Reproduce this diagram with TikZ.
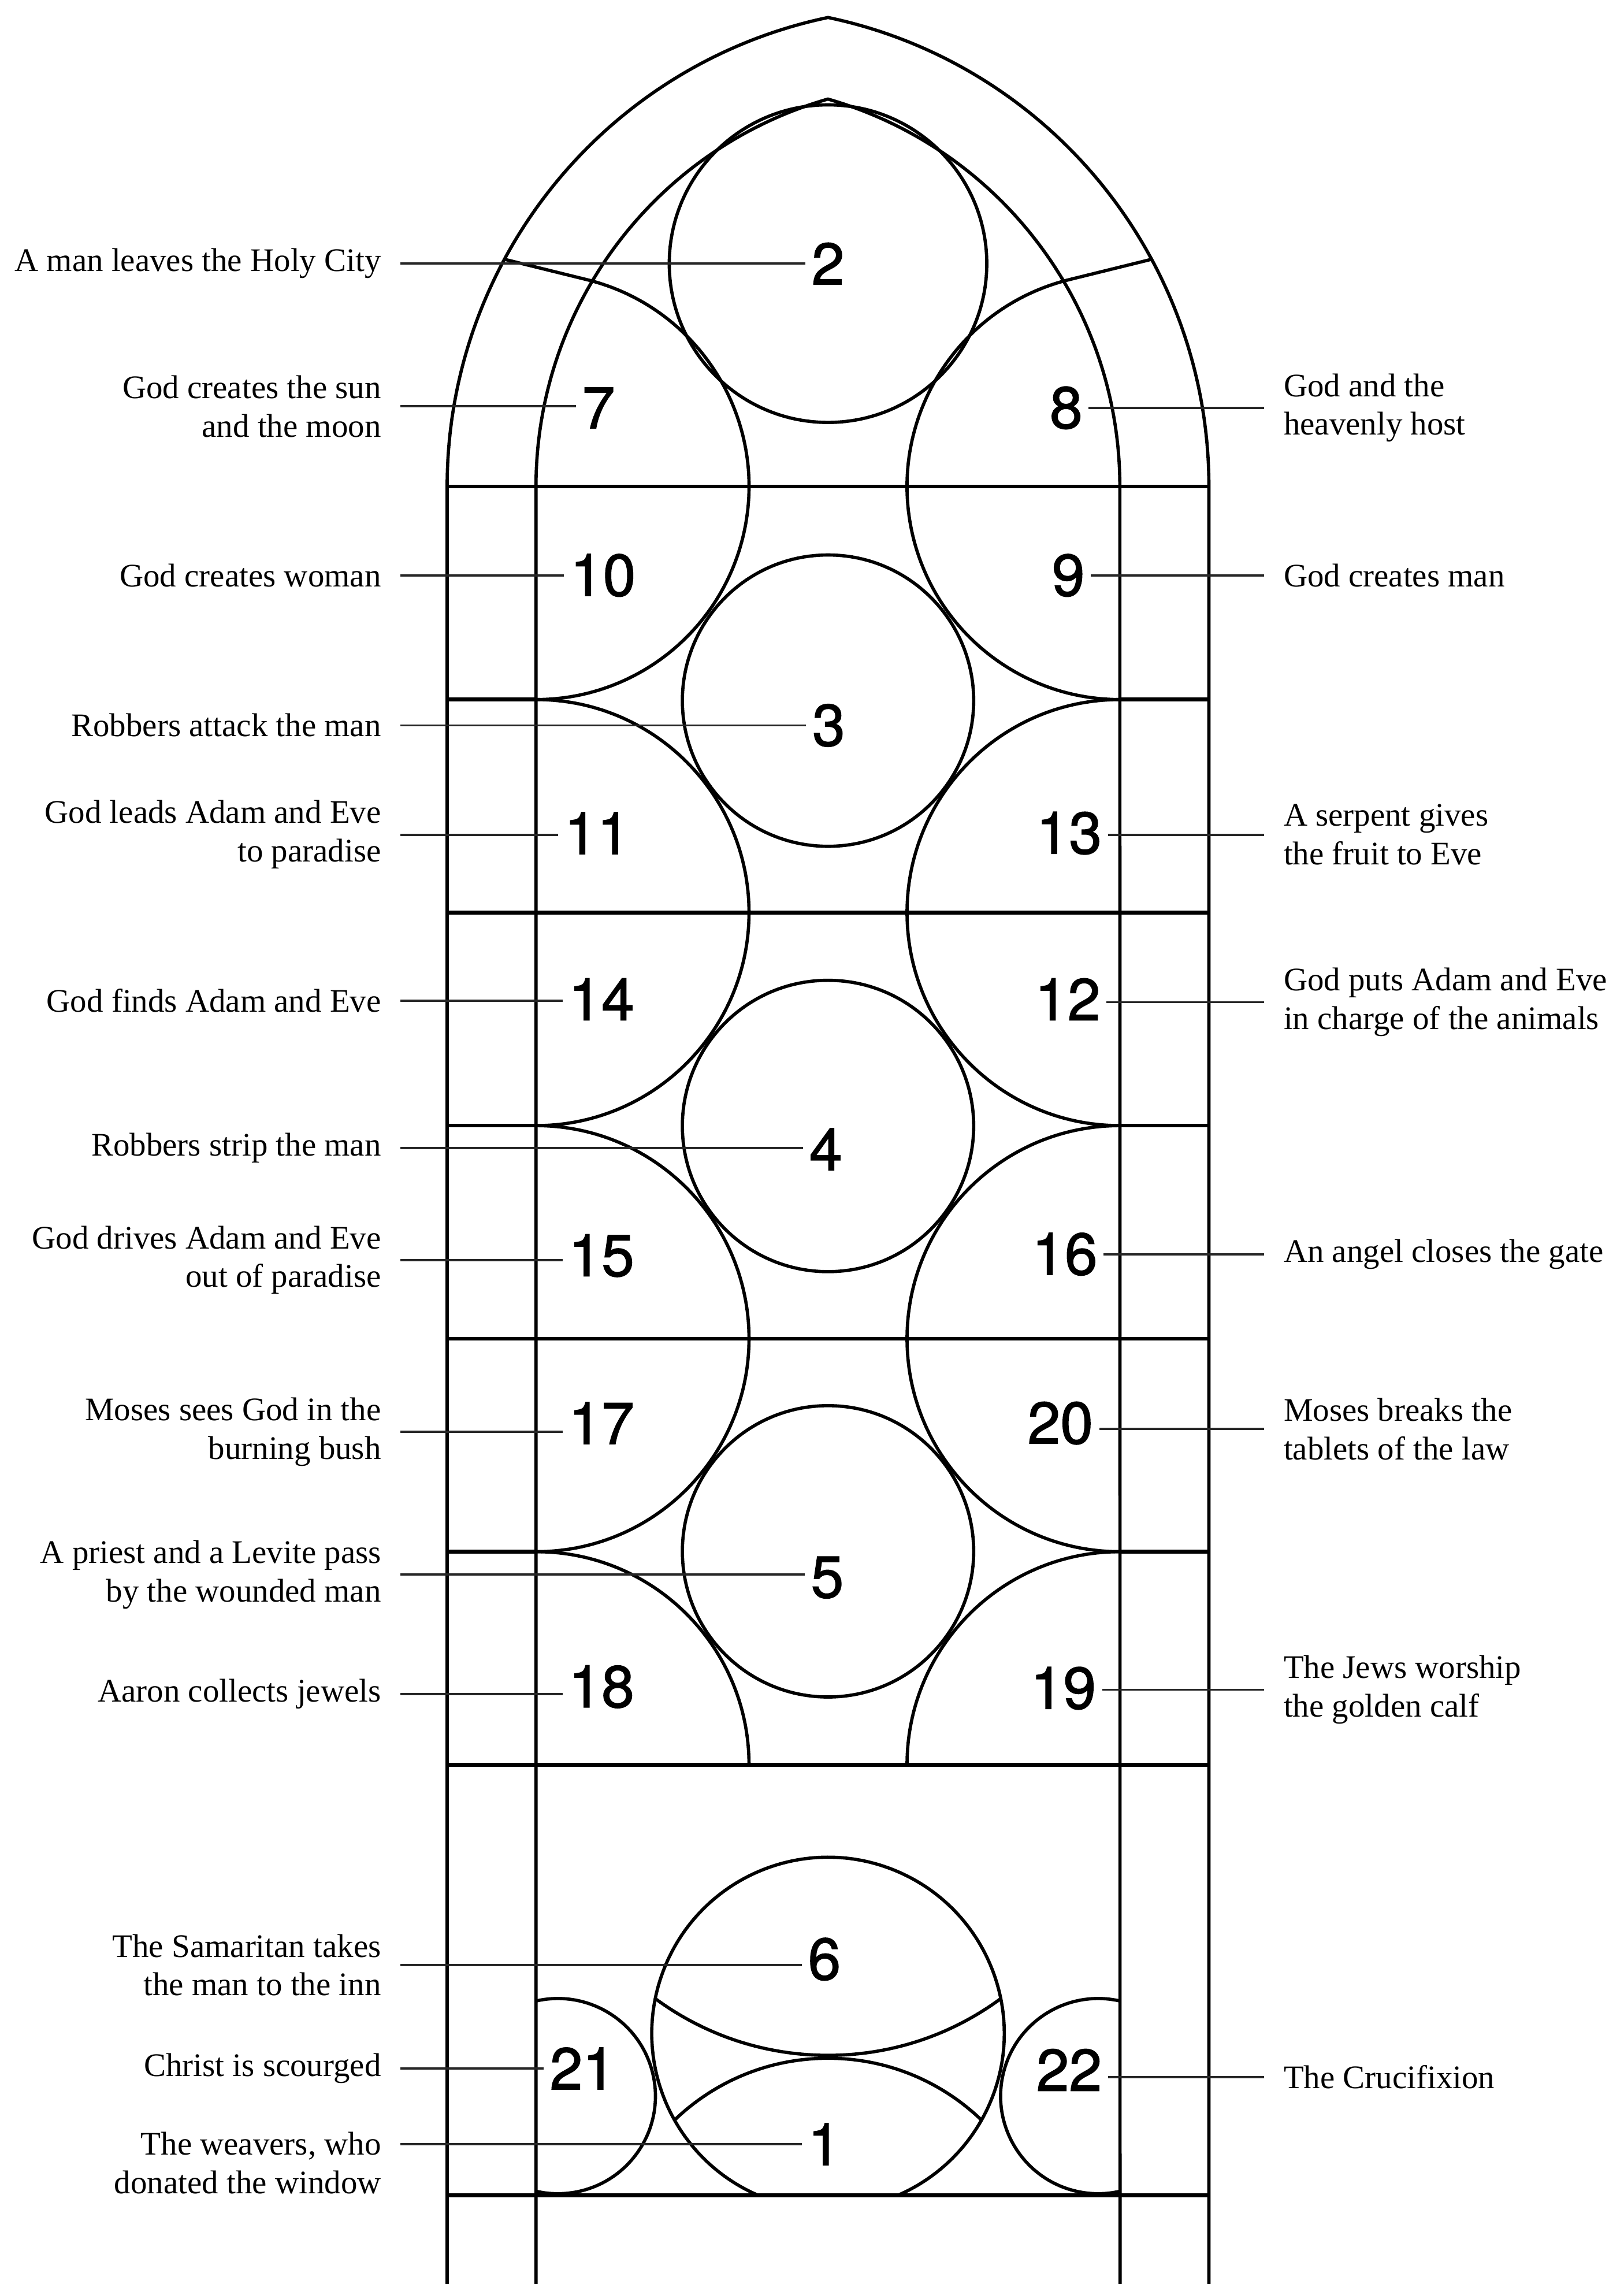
\documentclass[tikz,border=0pt]{standalone}
\usepackage{fontspec}
\setmainfont{Liberation Serif}
\newfontfamily\numfont[FakeBold=1.5]{TeX Gyre Heros}
\tikzset{
  lead/.style={line width=1.6pt,black},
  bar/.style={line width=1.9pt,black},
  leader/.style={line width=1.1pt,black!85},
  lbl/.style={inner xsep=0.33cm,inner ysep=0pt,font=\fontsize{16.2}{19}\selectfont},
  lbll/.style={lbl,anchor=east,align=right},
  lblr/.style={lbl,anchor=west,align=left},
  num/.style={inner xsep=0.1cm,inner ysep=0pt,font=\numfont\fontsize{29}{29}\selectfont}
}
\begin{document}
\begin{tikzpicture}[x=0.02521cm,y=-0.02521cm]
\fill[white] (0,0) rectangle (1115,1568);
\useasboundingbox (0,0) rectangle (1115,1568);

% outer frame and pointed arch
\draw[lead] (307,1568) -- (307,334) arc[start angle=180,end angle=258.16,radius=329]
  arc[start angle=281.84,end angle=360,radius=329] -- (830,1568);
% inner frame and arch
\draw[lead] (368,1568) -- (368,334) arc[start angle=180,end angle=254,radius=276.7]
  arc[start angle=286,end angle=360,radius=276.7] -- (769,1568);

% horizontal bars
\foreach \yy in {334,626.5,919,1211.5,1507} \draw[bar] (307,\yy) -- (830,\yy);
\foreach \yy in {480.25,772.75,1065.25} {
  \draw[bar] (307,\yy) -- (368,\yy);
  \draw[bar] (769,\yy) -- (830,\yy);
}

% side half-medallions
\draw[lead] (346.3,178) -- ([shift={(-76.1:146.25)}]368,334) arc[start angle=-76.1,end angle=90,radius=146.25];
\draw[lead] (790.7,178) -- ([shift={(256.1:146.25)}]769,334) arc[start angle=256.1,end angle=90,radius=146.25];
\foreach \yy in {626.5,919} {
  \draw[lead] (368,\yy-146.25) arc[start angle=-90,end angle=90,radius=146.25];
  \draw[lead] (769,\yy-146.25) arc[start angle=270,end angle=90,radius=146.25];
}
\draw[lead] (368,1065.25) arc[start angle=-90,end angle=0,radius=146.25];
\draw[lead] (769,1065.25) arc[start angle=270,end angle=180,radius=146.25];

% central medallions
\draw[lead] (568.5,181) circle[radius=109];
\foreach \yy in {481,773,1065} \draw[lead] (568.5,\yy) circle[radius=100];

% bottom group
\draw[lead] ([shift={(113.5:121)}]568.5,1396) arc[start angle=113.5,end angle=426.5,radius=121];
\begin{scope}
  \clip (568.5,1396) circle[radius=121];
  \draw[lead] (568.5,1211) circle[radius=200];
  \draw[lead] (568.5,1565) circle[radius=152];
\end{scope}
\draw[lead] ([shift={(257.1:67)}]383,1439) arc[start angle=257.1,end angle=462.9,radius=67];
\draw[lead] ([shift={(-77.1:67)}]754,1439) arc[start angle=-77.1,end angle=-282.9,radius=67];

% numbers
\node[num] (n2) at (568.5,181) {2};
\node[num] (n7) at (411,280) {7};
\node[num] (n8) at (732,280) {8};
\node[num] (n10) at (414,395) {10};
\node[num] (n9) at (733.5,395) {9};
\node[num] (n3) at (569,498) {3};
\node[num] (n11) at (410,572) {11};
\node[num] (n13) at (734,572) {13};
\node[num] (n14) at (413,686) {14};
\node[num] (n12) at (733,686) {12};
\node[num] (n4) at (567,789) {4};
\node[num] (n15) at (413,862) {15};
\node[num] (n16) at (731,861) {16};
\node[num] (n17) at (413,977) {17};
\node[num] (n20) at (728,977) {20};
\node[num] (n5) at (568,1083) {5};
\node[num] (n18) at (413,1158) {18};
\node[num] (n19) at (730,1159) {19};
\node[num] (n6) at (566,1345) {6};
\node[num] (n21) at (400,1420) {21};
\node[num] (n22) at (734,1421) {22};
\node[num] (n1) at (566,1472) {1};

% left labels
\node[lbll] (lA) at (275,181) {A man leaves the Holy City};
\node[lbll] (lB) at (275,279) {God creates the sun\\and the moon};
\node[lbll] (lC) at (275,395) {God creates woman};
\node[lbll] (lD) at (275,498) {Robbers attack the man};
\node[lbll] (lE) at (275,573) {God leads Adam and Eve\\to paradise};
\node[lbll] (lF) at (275,687) {God finds Adam and Eve};
\node[lbll] (lG) at (275,788) {Robbers strip the man};
\node[lbll] (lH) at (275,865) {God drives Adam and Eve\\out of paradise};
\node[lbll] (lI) at (275,983) {Moses sees God in the\\burning bush};
\node[lbll] (lJ) at (275,1081) {A priest and a Levite pass\\by the wounded man};
\node[lbll] (lK) at (275,1163) {Aaron collects jewels};
\node[lbll] (lL) at (275,1349) {The Samaritan takes\\the man to the inn};
\node[lbll] (lM) at (275,1420) {Christ is scourged};
\node[lbll] (lN) at (275,1485) {The weavers, who\\donated the window};

% right labels
\node[lblr] (rA) at (868,280) {God and the\\heavenly host};
\node[lblr] (rB) at (868,395) {God creates man};
\node[lblr] (rC) at (868,573) {A serpent gives\\the fruit to Eve};
\node[lblr] (rD) at (868,688) {God puts Adam and Eve\\in charge of the animals};
\node[lblr] (rE) at (868,861) {An angel closes the gate};
\node[lblr] (rF) at (868,981) {Moses breaks the\\tablets of the law};
\node[lblr] (rG) at (868,1160) {The Jews worship\\the golden calf};
\node[lblr] (rH) at (868,1426) {The Crucifixion};

% leaders
\draw[leader] (lA.east) -- (lA.east -| n2.west);
\draw[leader] (lB.east) -- (lB.east -| n7.west);
\draw[leader] (lC.east) -- (lC.east -| n10.west);
\draw[leader] (lD.east) -- (lD.east -| n3.west);
\draw[leader] (lE.east) -- (lE.east -| n11.west);
\draw[leader] (lF.east) -- (lF.east -| n14.west);
\draw[leader] (lG.east) -- (lG.east -| n4.west);
\draw[leader] (lH.east) -- (lH.east -| n15.west);
\draw[leader] (lI.east) -- (lI.east -| n17.west);
\draw[leader] (lJ.east) -- (lJ.east -| n5.west);
\draw[leader] (lK.east) -- (lK.east -| n18.west);
\draw[leader] (lL.east) -- (lL.east -| n6.west);
\draw[leader] (lM.east) -- (lM.east -| n21.west);
\draw[leader] (n1.west) -- (n1.west -| lN.east);
\draw[leader] (rA.west) -- (rA.west -| n8.east);
\draw[leader] (rB.west) -- (rB.west -| n9.east);
\draw[leader] (rC.west) -- (rC.west -| n13.east);
\draw[leader] (rD.west) -- (rD.west -| n12.east);
\draw[leader] (rE.west) -- (rE.west -| n16.east);
\draw[leader] (rF.west) -- (rF.west -| n20.east);
\draw[leader] (rG.west) -- (rG.west -| n19.east);
\draw[leader] (rH.west) -- (rH.west -| n22.east);
\end{tikzpicture}
\end{document}
